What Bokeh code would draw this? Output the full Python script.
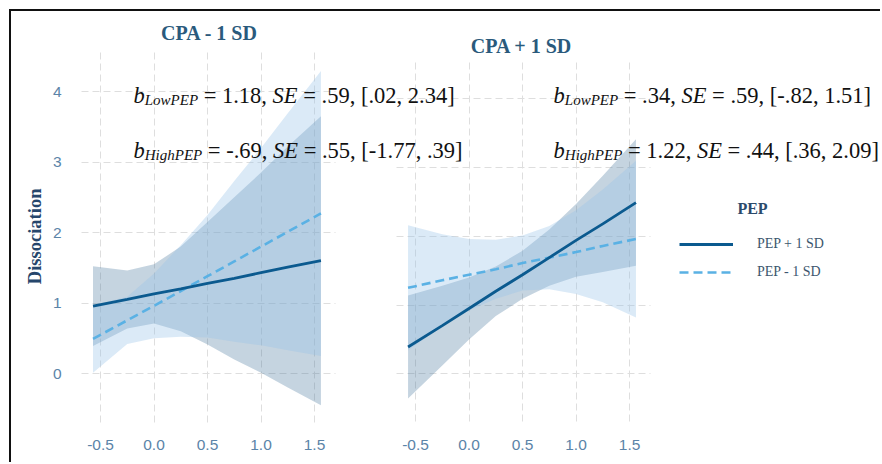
import math
from bokeh.plotting import figure
from bokeh.models import (ColumnDataSource, Range1d, FixedTicker, Grid, Label,
                          Legend, LegendItem)
from bokeh.transform import dodge
from bokeh.embed import file_html
from bokeh.resources import INLINE

# ---------------- data ----------------
x_vals = [-0.57, -0.25, 0.0, 0.25, 0.5, 0.75, 1.0, 1.25, 1.56]

# panel "CPA - 1 SD"
l_hi_fit = [0.955, 1.05, 1.13, 1.20, 1.28, 1.35, 1.43, 1.51, 1.60]
l_hi_low = [0.39, 0.64, 0.71, 0.60, 0.41, 0.20, 0.01, -0.20, -0.45]
l_hi_up = [1.52, 1.46, 1.55, 1.80, 2.15, 2.50, 2.85, 3.22, 3.65]
l_lo_fit = [0.49, 0.755, 0.96, 1.17, 1.38, 1.59, 1.80, 2.01, 2.27]
l_lo_low = [0.01, 0.42, 0.50, 0.52, 0.51, 0.45, 0.40, 0.33, 0.25]
l_lo_up = [0.97, 1.09, 1.42, 1.82, 2.25, 2.73, 3.20, 3.69, 4.29]

# panel "CPA + 1 SD"
r_hi_fit = [0.39, 0.70, 0.95, 1.20, 1.44, 1.69, 1.94, 2.18, 2.49]
r_hi_low = [-0.36, 0.12, 0.50, 0.84, 1.09, 1.28, 1.41, 1.48, 1.57]
r_hi_up = [1.14, 1.28, 1.40, 1.56, 1.79, 2.10, 2.47, 2.88, 3.41]
r_lo_fit = [1.25, 1.36, 1.44, 1.52, 1.61, 1.69, 1.77, 1.86, 1.96]
r_lo_low = [0.34, 0.69, 0.92, 1.09, 1.21, 1.23, 1.16, 1.04, 0.82]
r_lo_up = [2.16, 2.03, 1.96, 1.95, 2.01, 2.15, 2.38, 2.68, 3.10]

x_ticks = [-0.5, 0.0, 0.5, 1.0, 1.5]
x_tick_labels = ["-0.5", "0.0", "0.5", "1.0", "1.5"]
y_ticks = [0, 1, 2, 3, 4]
panel_titles = ["CPA - 1 SD", "CPA + 1 SD"]
series_labels = ["PEP + 1 SD", "PEP - 1 SD"]
legend_title = "PEP"
y_title = "Dissociation"

annot_left = [
    [("b", "i"), ("LowPEP", "s"), (" = 1.18, ", "r"), ("SE", "i"), (" = .59, [.02, 2.34]", "r")],
    [("b", "i"), ("HighPEP", "s"), (" = -.69, ", "r"), ("SE", "i"), (" = .55, [-1.77, .39]", "r")],
]
annot_right = [
    [("b", "i"), ("LowPEP", "s"), (" = .34, ", "r"), ("SE", "i"), (" = .59, [-.82, 1.51]", "r")],
    [("b", "i"), ("HighPEP", "s"), (" = 1.22, ", "r"), ("SE", "i"), (" = .44, [.36, 2.09]", "r")],
]

# ---------------- layout / style constants ----------------
OFFSET = 2.944          # horizontal shift of the second facet on the shared x scale
DARK = "#0b5a8f"
LIGHT = "#5ab1e4"
DARK_FILL = "#3f6f98"
LIGHT_FILL = "#98c3e8"
GRID_C = "#dedede"
TICK_C = "#5b84a8"
TITLE_C = "#2a5a7c"
SERIF = "Liberation Serif"
SANS = "Liberation Sans"

p = figure(width=871, height=453, output_backend="svg", toolbar_location=None,
           x_range=Range1d(-0.687, 6.808), y_range=Range1d(-0.780, 5.064),
           min_border_left=69, min_border_right=0, min_border_top=5, min_border_bottom=36)
p.extra_y_ranges = {"r": Range1d(-0.796, 5.197)}
p.outline_line_color = None
p.background_fill_color = "white"
p.border_fill_color = "white"
p.styles = {"margin-left": "9px", "margin-top": "9px",
            "border-top": "2px solid #111111", "border-left": "2px solid #111111"}

p.xgrid.visible = False
p.ygrid.visible = False

# ---- axes ----
xa = p.xaxis[0]
right_ticks = [round(t + OFFSET, 6) for t in x_ticks]
xa.ticker = FixedTicker(ticks=x_ticks + right_ticks)
overrides = {}
for t, lab in zip(x_ticks, x_tick_labels):
    overrides[t] = lab
for t, lab in zip(right_ticks, x_tick_labels):
    overrides[t] = lab
xa.major_label_overrides = overrides
xa.axis_line_color = None
xa.major_tick_line_color = None
xa.minor_tick_line_color = None
xa.major_label_standoff = 5
xa.major_label_text_font = SANS
xa.major_label_text_font_size = "15.5px"
xa.major_label_text_color = TICK_C

ya = p.yaxis[0]
ya.ticker = FixedTicker(ticks=y_ticks)
ya.axis_line_color = None
ya.major_tick_line_color = None
ya.minor_tick_line_color = None
ya.major_label_standoff = 13
ya.major_label_text_font = SANS
ya.major_label_text_font_size = "15.5px"
ya.major_label_text_color = TICK_C
# non-breaking spaces after the title move the visible word down to the panel centre
ya.axis_label = y_title + "\u00a0" * 6
ya.axis_label_text_font = SERIF
ya.axis_label_text_font_style = "bold"
ya.axis_label_text_font_size = "18.5px"
ya.axis_label_text_color = "#26466b"
ya.axis_label_standoff = 5

# ---- panel grids ----
v_extent = (-0.70, 4.55)
h_extent = (-0.68, 1.70)
grid_style = dict(grid_line_color=GRID_C, grid_line_dash="7 4", grid_line_width=1)
if "cross_bounds" in Grid.properties():
    p.add_layout(Grid(dimension=0, ticker=FixedTicker(ticks=x_ticks),
                      cross_bounds=v_extent, **grid_style), "center")
    p.add_layout(Grid(dimension=0, ticker=FixedTicker(ticks=right_ticks), y_range_name="r",
                      cross_bounds=v_extent, **grid_style), "center")
    p.add_layout(Grid(dimension=1, ticker=FixedTicker(ticks=y_ticks),
                      cross_bounds=h_extent, **grid_style), "center")
    p.add_layout(Grid(dimension=1, ticker=FixedTicker(ticks=y_ticks), y_range_name="r",
                      cross_bounds=(h_extent[0] + OFFSET, h_extent[1] + OFFSET), **grid_style), "center")
else:
    seg = dict(line_color=GRID_C, line_dash="7 4", line_width=1)
    p.segment(x0=x_ticks, x1=x_ticks, y0=[v_extent[0]] * 5, y1=[v_extent[1]] * 5, **seg)
    p.segment(x0=right_ticks, x1=right_ticks, y0=[v_extent[0]] * 5, y1=[v_extent[1]] * 5,
              y_range_name="r", **seg)
    p.segment(x0=[h_extent[0]] * 5, x1=[h_extent[1]] * 5, y0=y_ticks, y1=y_ticks, **seg)
    p.segment(x0=[h_extent[0] + OFFSET] * 5, x1=[h_extent[1] + OFFSET] * 5, y0=y_ticks, y1=y_ticks,
              y_range_name="r", **seg)

# ---- data sources ----
src_l = ColumnDataSource(dict(x=x_vals, hi=l_hi_fit, hi_lo=l_hi_low, hi_up=l_hi_up,
                              lo=l_lo_fit, lo_lo=l_lo_low, lo_up=l_lo_up))
src_r = ColumnDataSource(dict(x=x_vals, hi=r_hi_fit, hi_lo=r_hi_low, hi_up=r_hi_up,
                              lo=r_lo_fit, lo_lo=r_lo_low, lo_up=r_lo_up))

# left facet
p.varea(x="x", y1="hi_lo", y2="hi_up", source=src_l, fill_color=DARK_FILL, fill_alpha=0.3)
p.varea(x="x", y1="lo_lo", y2="lo_up", source=src_l, fill_color=LIGHT_FILL, fill_alpha=0.35)
# right facet
xr = dodge("x", OFFSET)
p.varea(x=xr, y1="hi_lo", y2="hi_up", source=src_r, fill_color=DARK_FILL, fill_alpha=0.3,
        y_range_name="r")
p.varea(x=xr, y1="lo_lo", y2="lo_up", source=src_r, fill_color=LIGHT_FILL, fill_alpha=0.35,
        y_range_name="r")

r_lo_l = p.line(x="x", y="lo", source=src_l, line_color=LIGHT, line_width=2.6, line_dash="9 5")
r_hi_l = p.line(x="x", y="hi", source=src_l, line_color=DARK, line_width=2.8)
p.line(x=xr, y="lo", source=src_r, line_color=LIGHT, line_width=2.6, line_dash="9 5", y_range_name="r")
p.line(x=xr, y="hi", source=src_r, line_color=DARK, line_width=2.8, y_range_name="r")

# ---- legend ----
legend = Legend(items=[LegendItem(label=series_labels[0], renderers=[r_hi_l]),
                       LegendItem(label=series_labels[1], renderers=[r_lo_l])],
                location=(599, 146), padding=0, margin=0, spacing=8,
                glyph_width=54, glyph_height=20, label_standoff=24, label_height=20,
                label_text_font=SERIF, label_text_font_size="14px", label_text_color="#3c566e",
                border_line_color=None, background_fill_alpha=0)
p.add_layout(legend, "center")
p.add_layout(Label(x=5.593, y=2.34, text=legend_title, text_font=SERIF, text_font_style="bold",
                   text_font_size="16px", text_color="#2b4a6b", text_align="center",
                   text_baseline="middle"))

# ---- facet titles ----
p.add_layout(Label(x=0.519, y=4.823, text=panel_titles[0], text_font=SERIF, text_font_style="bold",
                   text_font_size="20px", text_color=TITLE_C, text_align="center", text_baseline="middle"))
p.add_layout(Label(x=3.435, y=4.652, text=panel_titles[1], text_font=SERIF, text_font_style="bold",
                   text_font_size="20px", text_color=TITLE_C, text_align="center", text_baseline="middle"))

# ---- coefficient annotations (pieces with italic / subscript parts) ----
MAIN = 22.5
SUB = 15.0
REG = {' ': .25, ',': .25, '.': .25, '-': .333, '[': .333, ']': .333, '=': .564}
ITA = {'b': .5, 'L': .556, 'o': .5, 'w': .667, 'P': .611, 'E': .611, 'H': .722,
       'i': .278, 'g': .5, 'h': .5, 'S': .5}


def piece_width(text, kind, size):
    table = REG if kind == "r" else ITA
    return sum(table.get(c, .5) for c in text) * size


def add_annotation(x, y, pieces):
    off = 0.0
    for text, kind in pieces:
        size = SUB if kind == "s" else MAIN
        lead = len(text) - len(text.lstrip(" "))
        t = text.strip(" ")
        p.add_layout(Label(x=x, y=y, x_offset=off + lead * 0.25 * size,
                           y_offset=-4.5 if kind == "s" else 0, text=t, text_font=SERIF,
                           text_font_style="normal" if kind == "r" else "italic",
                           text_font_size=f"{size}px", text_color="#111111",
                           text_align="left", text_baseline="middle"))
        off += piece_width(text, kind, size)


row_y = [3.95, 3.17]
for pieces, yy in zip(annot_left, row_y):
    add_annotation(-0.192, yy, pieces)
for pieces, yy in zip(annot_right, row_y):
    add_annotation(3.734, yy, pieces)

open("out.html", "w").write(file_html(p, INLINE))
